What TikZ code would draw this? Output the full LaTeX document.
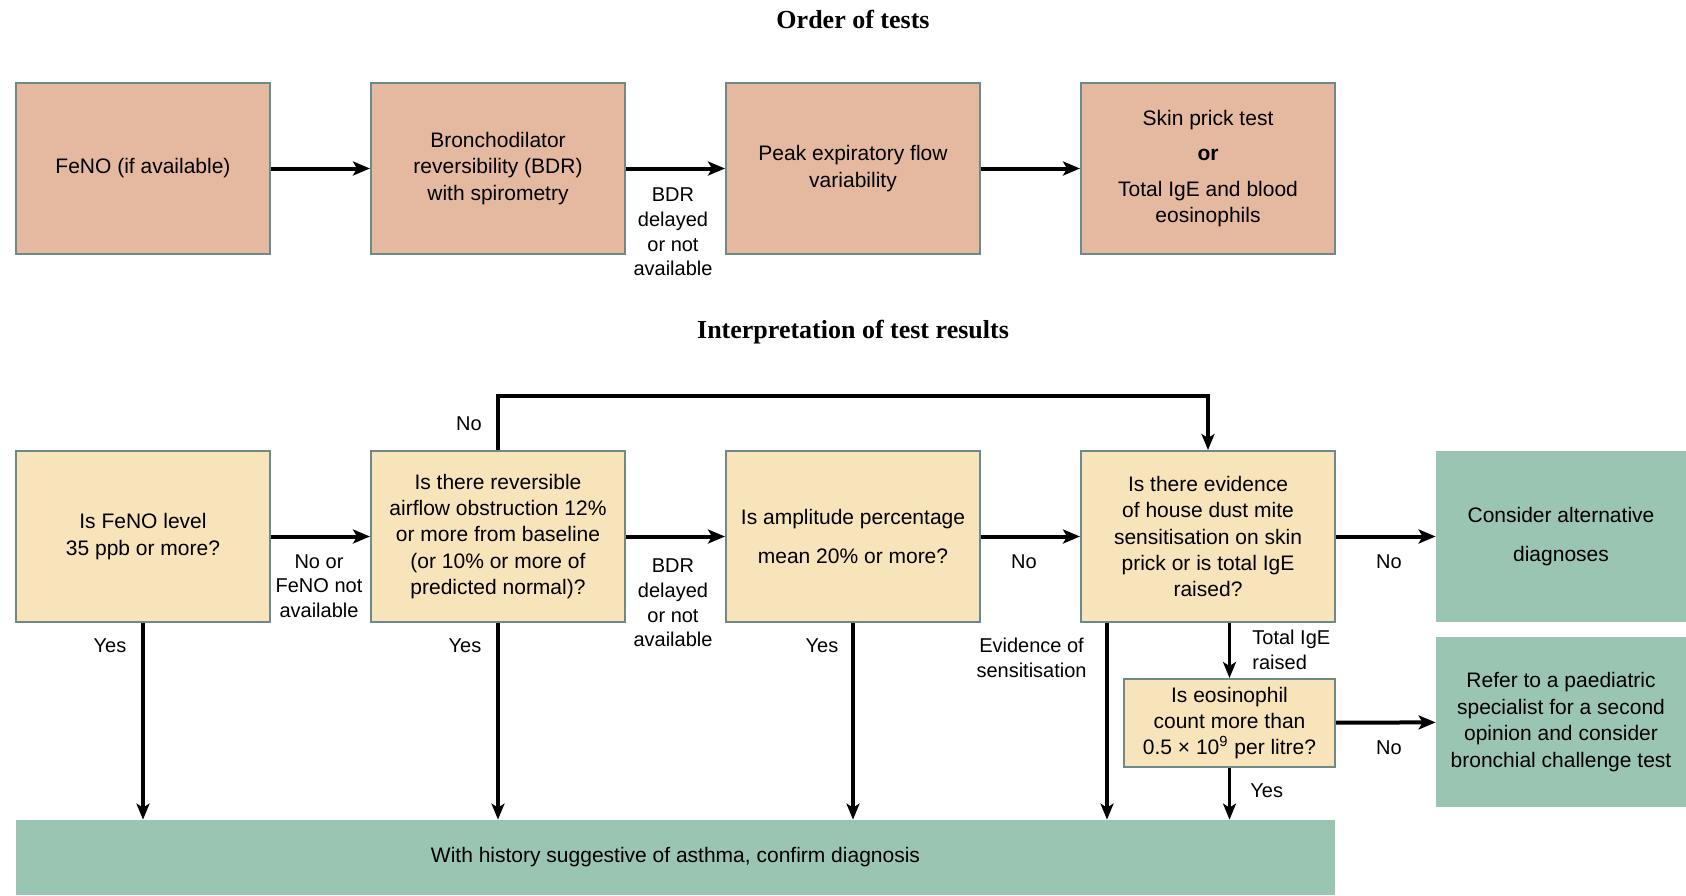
\documentclass[tikz,border=0pt]{standalone}
\usepackage{fontspec}
\setmainfont{Liberation Sans}
\newfontfamily\titlefont{Liberation Serif}
\usetikzlibrary{arrows.meta}
\definecolor{testfill}{HTML}{E5B9A0}
\definecolor{askfill}{HTML}{F8E4BA}
\definecolor{endfill}{HTML}{9BC5B3}
\definecolor{boxline}{HTML}{6E8A88}
\tikzset{
    testbox/.style={draw=boxline, line width=1pt, fill=testfill, minimum width=127pt,
        minimum height=85.5pt, align=center, inner sep=2pt, font=\fontsize{10.5}{13.2}\selectfont},
    askbox/.style={testbox, fill=askfill},
    endbox/.style={fill=endfill, align=center, inner sep=2pt, font=\fontsize{10.5}{13.2}\selectfont},
    flow/.style={-{Stealth[length=8.5pt,width=7pt,inset=2pt]}, line width=2pt},
    down/.style={-{Stealth[length=8pt,width=6.5pt,inset=2pt]}, line width=1.6pt},
    note/.style={align=center, inner sep=0pt, font=\fontsize{10}{12.3}\selectfont},
    heading/.style={font=\titlefont\bfseries\fontsize{13}{15}\selectfont}
}
\begin{document}
    \begin{tikzpicture}[x=.5pt, y=-.5pt]
        \useasboundingbox (0,0) rectangle (1686,895);
        % order of tests
        \node[heading] (order) at (853,19) {Order of tests};
        \node[testbox] (feno) at (143,168.5) {FeNO (if available)};
        \node[testbox] (bdr) at (498,168.5) {Bronchodilator\\reversibility (BDR)\\with spirometry};
        \node[testbox] (pef) at (853,168.5) {Peak expiratory flow\\variability};
        \node[testbox] (skin) at (1208,168.5) {Skin prick test\\[4.5pt]\textbf{or}\\[4.5pt]Total IgE and blood\\eosinophils};
        \draw[flow] (feno) -- (bdr);
        \draw[flow] (bdr) -- (pef);
        \draw[flow] (pef) -- (skin);
        \node[note] (bdrnote) at (673,232) {BDR\\delayed\\or not\\available};

        % interpretation
        \node[heading] (interp) at (853,332) {Interpretation of test results};
        \node[askbox] (askfeno) at (143,536.5) {Is FeNO level\\35 ppb or more?};
        \node[askbox] (askbdr) at (498,536.5) {Is there reversible\\airflow obstruction 12\%\\or more from baseline\\(or 10\% or more of\\predicted normal)?};
        \node[askbox] (askpef) at (853,536.5) {Is amplitude percentage\\[6pt]mean 20\% or more?};
        \node[askbox] (asksens) at (1208,536.5) {Is there evidence\\of house dust mite\\sensitisation on skin\\prick or is total IgE\\raised?};
        \node[askbox, minimum width=105.5pt, minimum height=44pt] (askeos) at (1229.5,723) {Is eosinophil\\count more than\\0.5 × 10\textsuperscript{9} per litre?};
        \node[endbox, minimum width=125pt, minimum height=85.5pt] (altdiag) at (1561,536.5) {Consider alternative\\[6pt]diagnoses};
        \node[endbox, minimum width=125pt, minimum height=85pt] (refer) at (1561,722) {Refer to a paediatric\\specialist for a second\\opinion and consider\\bronchial challenge test};
        \node[endbox, minimum width=659.5pt, minimum height=37.5pt] (confirm) at (675.5,857.5) {With history suggestive of asthma, confirm diagnosis};

        \draw[flow] (askfeno) -- (askbdr);
        \draw[flow] (askbdr) -- (askpef);
        \draw[flow] (askpef) -- (asksens);
        \draw[flow] (asksens) -- (altdiag);
        \draw[flow] (askeos) -- (refer);
        \draw[down] (askbdr.north) -- ++(0,-54) -| (asksens.north);
        \draw[down] (askfeno.south) -- (askfeno.south |- confirm.north);
        \draw[down] (askbdr.south) -- (askbdr.south |- confirm.north);
        \draw[down] (askpef.south) -- (askpef.south |- confirm.north);
        \draw[down] ([xshift=-50.5pt]asksens.south) -- ([xshift=-50.5pt]asksens.south |- confirm.north);
        \draw[down] (asksens.south -| askeos.north) -- (askeos.north);
        \draw[down] (askeos.south) -- (askeos.south |- confirm.north);

        \node[note] (nofeno) at (319,586) {No or\\FeNO not\\available};
        \node[note] (bdrlate) at (673,603) {BDR\\delayed\\or not\\available};
        \node[note] (noloop) at (469,424) {No};
        \node[note] (nopef) at (1024,562) {No};
        \node[note] (nosens) at (1389,562) {No};
        \node[note] (noeos) at (1389,748) {No};
        \node[note] (yesfeno) at (110,646) {Yes};
        \node[note] (yesbdr) at (465,646) {Yes};
        \node[note] (yespef) at (822,646) {Yes};
        \node[note, anchor=east] (evid) at (1087,658) {Evidence of\\sensitisation};
        \node[note, align=left, anchor=west] (ige) at (1252,650) {Total IgE\\raised};
        \node[note, anchor=west] (yeseos) at (1250,791) {Yes};
    \end{tikzpicture}
\end{document}
